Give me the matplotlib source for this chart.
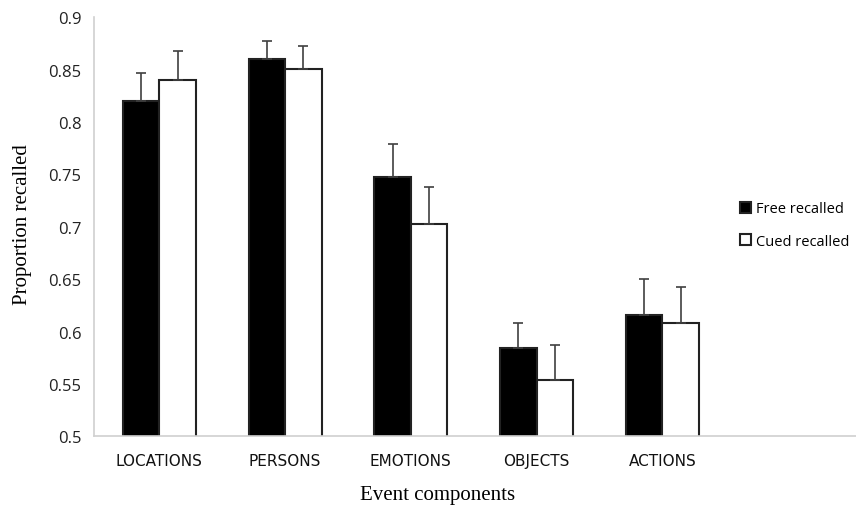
import matplotlib
matplotlib.use("Agg")
import matplotlib.pyplot as plt
import numpy as np

# values
categories = ["LOCATIONS", "PERSONS", "EMOTIONS", "OBJECTS", "ACTIONS"]
free_recalled = [0.820, 0.860, 0.748, 0.584, 0.616]
free_err = [0.027, 0.017, 0.031, 0.024, 0.034]
cued_recalled = [0.840, 0.851, 0.703, 0.554, 0.608]
cued_err = [0.028, 0.022, 0.035, 0.033, 0.035]
yticks = [0.5, 0.55, 0.6, 0.65, 0.7, 0.75, 0.8, 0.85, 0.9]
ytick_labels = ["0.5", "0.55", "0.6", "0.65", "0.7", "0.75", "0.8", "0.85", "0.9"]

fig = plt.figure(figsize=(8.56, 5.10), dpi=100)
ax = fig.add_axes([0.1098, 0.1422, 0.8902, 0.8219])

x = np.arange(len(categories))
w = 0.29
err_kw = dict(ecolor="#404040", elinewidth=1.2, capsize=3.6, capthick=1.2)

ax.bar(x - w / 2, free_recalled, w, bottom=0, color="black", edgecolor="#222222",
       linewidth=1.5, label="Free recalled",
       yerr=[np.zeros(len(free_err)), free_err], error_kw=err_kw)
ax.bar(x + w / 2, cued_recalled, w, bottom=0, color="white", edgecolor="#222222",
       linewidth=1.5, label="Cued recalled",
       yerr=[np.zeros(len(cued_err)), cued_err], error_kw=err_kw)

ax.set_ylim(0.5, 0.9)
ax.set_xlim(-0.52, 5.54)
ax.set_yticks(yticks)
ax.set_yticklabels(ytick_labels, fontsize=12, family="Open Sans", color="#222222")
ax.set_xticks(x)
ax.set_xticklabels(categories, fontsize=11, family="DejaVu Sans", color="#111111")
ax.tick_params(axis="y", length=0, pad=9)
ax.tick_params(axis="x", length=0, pad=12)

for s in ["top", "right"]:
    ax.spines[s].set_visible(False)
for s in ["left", "bottom"]:
    ax.spines[s].set_color("#d0d0d0")
    ax.spines[s].set_linewidth(1.2)

fig.text(0.026, 0.56, "Proportion recalled", rotation=90, ha="center", va="center",
         fontsize=15, family="Liberation Serif")
fig.text(0.511, 0.028, "Event components", ha="center", va="center",
         fontsize=15, family="Liberation Serif")

leg = fig.legend(loc="upper left", bbox_to_anchor=(0.864, 0.603), frameon=False,
                 handlelength=0.8, handleheight=0.8, handletextpad=0.3,
                 labelspacing=1.2, borderaxespad=0, borderpad=0,
                 prop={"family": "Open Sans", "size": 10.5})

fig.savefig("out.png", dpi=100)
